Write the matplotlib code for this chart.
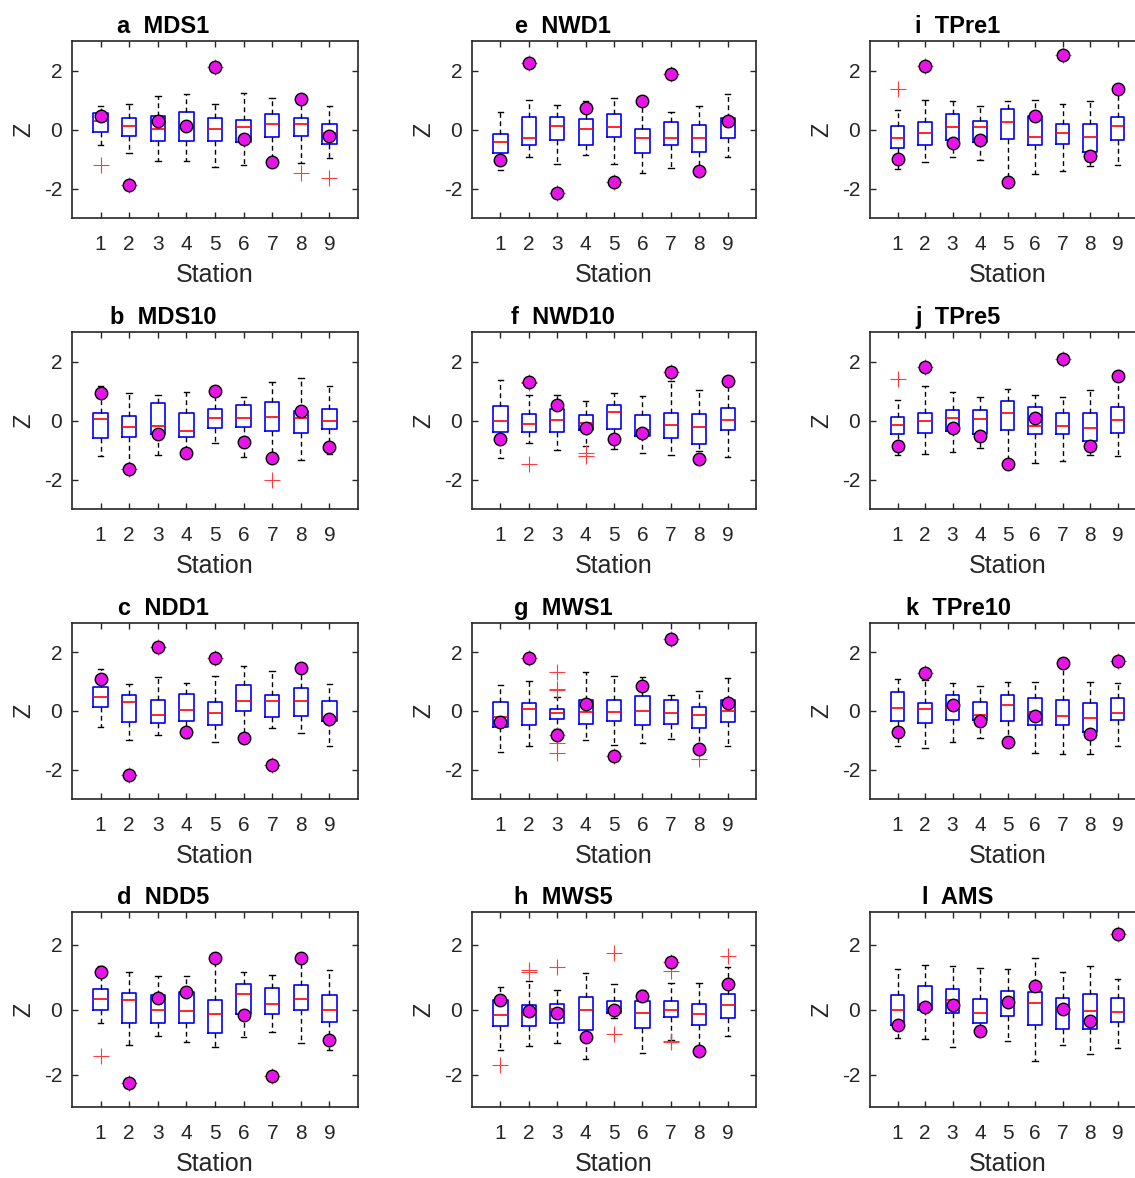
import matplotlib
matplotlib.use("Agg")
import matplotlib.pyplot as plt
import numpy as np

plt.rcParams['font.family'] = ['Liberation Sans', 'DejaVu Sans']
plt.rcParams['axes.unicode_minus'] = False

# panel titles, column-major (a-d col 1, e-h col 2, i-l col 3)
letters = ['a', 'b', 'c', 'd', 'e', 'f', 'g', 'h', 'i', 'j', 'k', 'l']
names = ['MDS1', 'MDS10', 'NDD1', 'NDD5', 'NWD1', 'NWD10', 'MWS1', 'MWS5',
         'TPre1', 'TPre5', 'TPre10', 'AMS']
stations = [1, 2, 3, 4, 5, 6, 7, 8, 9]

# box statistics per panel (9 stations each)
whisker_hi = [
    [0.79, 0.88, 1.13, 1.19, 0.85, 1.24, 1.06, 1.03, 0.81],
    [1.16, 0.92, 0.85, 0.96, 1.00, 0.79, 1.29, 1.43, 1.16],
    [1.43, 0.93, 1.17, 0.94, 1.18, 1.54, 1.38, 1.46, 0.92],
    [1.34, 1.15, 1.04, 1.04, 1.59, 1.14, 1.06, 1.59, 1.21],
    [0.61, 1.01, 0.84, 0.96, 1.06, 0.97, 0.60, 0.79, 1.22],
    [1.38, 0.88, 0.85, 0.66, 0.93, 0.82, 1.34, 1.03, 1.17],
    [0.90, 1.02, 0.49, 1.33, 1.19, 1.15, 0.53, 0.67, 1.11],
    [0.68, 0.87, 0.61, 1.13, 0.77, 0.59, 0.81, 0.82, 1.32],
    [0.66, 1.00, 0.98, 0.81, 0.97, 1.00, 0.88, 0.96, 1.38],
    [0.70, 1.18, 0.98, 0.81, 1.06, 0.85, 0.78, 1.04, 1.51],
    [1.09, 1.05, 0.94, 0.85, 1.00, 1.00, 1.63, 1.00, 0.97],
    [1.25, 1.37, 1.33, 1.27, 1.24, 1.59, 1.14, 1.33, 0.93],
]
box_q3 = [
    [0.56, 0.40, 0.45, 0.60, 0.38, 0.33, 0.53, 0.40, 0.17],
    [0.27, 0.16, 0.60, 0.25, 0.40, 0.54, 0.62, 0.33, 0.40],
    [0.82, 0.56, 0.38, 0.57, 0.30, 0.87, 0.53, 0.80, 0.35],
    [0.63, 0.50, 0.46, 0.53, 0.29, 0.80, 0.65, 0.76, 0.46],
    [-0.15, 0.42, 0.43, 0.37, 0.52, 0.02, 0.27, 0.16, 0.38],
    [0.49, 0.21, 0.40, 0.18, 0.51, 0.18, 0.26, 0.21, 0.44],
    [0.30, 0.27, 0.06, 0.38, 0.36, 0.52, 0.36, 0.13, 0.39],
    [0.28, 0.14, 0.17, 0.38, 0.27, 0.27, 0.25, 0.16, 0.48],
    [0.13, 0.25, 0.52, 0.30, 0.71, 0.47, 0.20, 0.17, 0.43],
    [0.13, 0.24, 0.37, 0.35, 0.65, 0.45, 0.24, 0.25, 0.45],
    [0.65, 0.26, 0.53, 0.29, 0.54, 0.45, 0.37, 0.28, 0.46],
    [0.45, 0.73, 0.64, 0.33, 0.57, 0.54, 0.34, 0.49, 0.36],
]
medians = [
    [0.29, 0.12, 0.02, 0.11, 0.02, 0.10, 0.19, 0.19, -0.12],
    [0.04, -0.22, -0.17, -0.37, 0.08, 0.10, 0.13, 0.08, 0.00],
    [0.47, 0.31, -0.12, 0.02, -0.07, 0.34, 0.34, 0.34, -0.22],
    [0.31, 0.28, -0.03, -0.04, -0.14, 0.48, 0.16, 0.33, 0.00],
    [-0.44, -0.29, 0.13, 0.03, 0.10, -0.29, -0.28, -0.30, 0.28],
    [-0.01, -0.11, 0.01, -0.10, 0.28, -0.31, -0.16, -0.22, 0.02],
    [-0.20, 0.07, -0.07, -0.04, -0.04, 0.01, -0.07, -0.13, 0.00],
    [-0.16, -0.16, 0.01, 0.00, 0.05, -0.12, -0.03, -0.14, 0.14],
    [-0.29, -0.11, 0.10, 0.08, 0.27, -0.24, -0.13, -0.26, 0.12],
    [-0.15, 0.00, 0.09, 0.06, 0.27, -0.17, -0.20, -0.27, 0.03],
    [0.09, 0.07, 0.10, -0.12, 0.21, -0.03, -0.18, -0.24, -0.07],
    [-0.02, 0.16, 0.28, -0.12, 0.16, 0.19, 0.02, -0.04, -0.07],
]
box_q1 = [
    [-0.07, -0.21, -0.39, -0.39, -0.39, -0.42, -0.27, -0.22, -0.48],
    [-0.61, -0.56, -0.45, -0.57, -0.26, -0.21, -0.37, -0.43, -0.28],
    [0.15, -0.39, -0.42, -0.35, -0.49, 0.00, -0.22, -0.16, -0.33],
    [-0.03, -0.43, -0.40, -0.43, -0.72, -0.15, -0.13, 0.00, -0.37],
    [-0.80, -0.52, -0.35, -0.54, -0.27, -0.81, -0.52, -0.76, -0.30],
    [-0.38, -0.38, -0.39, -0.31, -0.30, -0.51, -0.60, -0.78, -0.33],
    [-0.56, -0.48, -0.26, -0.44, -0.35, -0.48, -0.46, -0.57, -0.38],
    [-0.52, -0.50, -0.41, -0.64, -0.12, -0.56, -0.24, -0.47, -0.27],
    [-0.62, -0.52, -0.36, -0.43, -0.31, -0.52, -0.49, -0.76, -0.36],
    [-0.46, -0.44, -0.35, -0.46, -0.33, -0.45, -0.45, -0.71, -0.42],
    [-0.35, -0.40, -0.29, -0.31, -0.33, -0.47, -0.47, -0.73, -0.32],
    [-0.49, 0.00, -0.11, -0.40, -0.21, -0.48, -0.61, -0.59, -0.37],
]
whisker_lo = [
    [-0.53, -0.79, -1.07, -1.07, -1.27, -1.21, -1.21, -1.12, -0.97],
    [-1.20, -1.50, -1.16, -1.05, -0.76, -1.24, -1.26, -1.33, -1.12],
    [-0.55, -1.00, -0.83, -0.91, -1.04, -0.92, -0.58, -0.76, -1.20],
    [-0.40, -1.10, -0.83, -1.00, -1.14, -0.85, -0.70, -1.04, -1.25],
    [-1.38, -0.92, -1.17, -0.88, -1.17, -1.47, -1.29, -1.42, -0.93],
    [-1.26, -0.76, -1.00, -0.85, -0.96, -1.09, -1.17, -1.05, -1.24],
    [-1.40, -1.20, -0.63, -1.00, -1.17, -1.09, -0.97, -1.22, -1.19],
    [-1.24, -1.12, -1.02, -1.51, -0.26, -1.33, -0.94, -1.25, -0.81],
    [-1.35, -1.10, -0.94, -1.03, -1.78, -1.51, -1.40, -1.25, -1.19],
    [-1.17, -1.15, -1.07, -0.92, -1.48, -1.43, -1.37, -1.16, -1.20],
    [-1.19, -1.26, -1.06, -0.93, -1.07, -1.43, -1.46, -1.48, -1.19],
    [-0.88, -0.91, -1.14, -0.81, -0.96, -1.57, -1.08, -1.38, -1.17],
]
outliers = [
    [[-1.21], [-1.89], [], [], [2.11], [], [], [-1.46], [-1.63]],
    [[], [-1.65], [], [], [], [], [-2.03], [], []],
    [[], [-2.19], [2.18], [], [1.81], [], [-1.85], [], []],
    [[-1.43], [-2.25], [], [], [], [], [-2.05], [], []],
    [[], [2.24], [-2.15], [], [-1.79], [], [1.89], [], []],
    [[], [1.31, 1.28, -1.46], [], [-1.09, -1.19], [], [], [1.65], [], []],
    [[], [1.79], [1.33, 0.74, 0.72, -0.81, -1.10, -1.44], [], [-1.54], [],
     [2.46], [-1.64], []],
    [[-1.72], [1.23, 1.14], [1.31], [], [1.73, -0.75], [],
     [1.47, 1.18, -0.97, -1.00], [], [1.66]],
    [[1.37], [2.15], [], [], [], [], [2.53], [], []],
    [[1.39], [1.82], [], [], [], [], [2.08], [], []],
    [[], [1.30], [], [], [], [], [], [], [1.71]],
    [[], [], [], [], [], [], [], [], [2.31]],
]
# magenta points (one per station)
points = [
    [0.47, -1.89, 0.28, 0.11, 2.11, -0.31, -1.11, 1.03, -0.22],
    [0.92, -1.65, -0.45, -1.10, 1.00, -0.72, -1.26, 0.33, -0.89],
    [1.08, -2.19, 2.18, -0.72, 1.81, -0.92, -1.85, 1.46, -0.26],
    [1.16, -2.25, 0.36, 0.54, 1.59, -0.18, -2.05, 1.59, -0.95],
    [-1.03, 2.24, -2.15, 0.72, -1.79, 0.97, 1.89, -1.42, 0.28],
    [-0.62, 1.31, 0.53, -0.26, -0.62, -0.43, 1.65, -1.31, 1.34],
    [-0.39, 1.79, -0.81, 0.24, -1.54, 0.85, 2.46, -1.28, 0.26],
    [0.30, -0.05, -0.11, -0.85, 0.00, 0.43, 1.47, -1.28, 0.77],
    [-0.99, 2.15, -0.45, -0.35, -1.78, 0.47, 2.53, -0.91, 1.38],
    [-0.85, 1.82, -0.24, -0.51, -1.48, 0.07, 2.08, -0.85, 1.51],
    [-0.70, 1.30, 0.20, -0.33, -1.07, -0.18, 1.63, -0.79, 1.71],
    [-0.47, 0.07, 0.15, -0.65, 0.22, 0.71, 0.02, -0.34, 2.31],
]

W, H = 1135, 1178
fig = plt.figure(figsize=(W / 100, H / 100), dpi=100)

# layout in pixels
col_left = [72, 472, 870]
col_width = [286, 284, 275]
row_top = [41, 332, 623, 912]
row_height = [177, 177, 176, 195]
dark = '#262626'

for p in range(12):
    col, row = p // 4, p % 4
    l = col_left[col] / W
    b = 1 - (row_top[row] + row_height[row]) / H
    ax = fig.add_axes([l, b, col_width[col] / W, row_height[row] / H])

    stats = []
    for s in range(9):
        stats.append(dict(med=medians[p][s], q1=box_q1[p][s], q3=box_q3[p][s],
                          whislo=whisker_lo[p][s], whishi=whisker_hi[p][s],
                          fliers=outliers[p][s]))
    ax.bxp(stats, positions=stations, widths=0.5, capwidths=0.2,
           boxprops=dict(color='#0000ff', lw=1.2),
           medianprops=dict(color='#ff0000', lw=1.2),
           whiskerprops=dict(color='black', lw=1.0, linestyle=(0, (3.5, 2.5))),
           capprops=dict(color='black', lw=1.0),
           flierprops=dict(marker='+', markeredgecolor='#ff3c3c', markersize=11,
                           markeredgewidth=0.8, linestyle='none'))
    ax.plot(stations, points[p], 'o', mfc='#e614e6', mec='black', mew=1.0,
            ms=9, zorder=5, clip_on=False)

    ax.set_xlim(0, 10)
    ax.set_ylim(-3, 3)
    ax.set_xticks(stations)
    ax.set_xticklabels([str(s) for s in stations])
    ax.set_yticks([-2, 0, 2])
    ax.set_yticklabels(['-2', '0', '2'])
    ax.tick_params(direction='in', length=4, width=1.0, colors=dark,
                   top=True, right=True, labelsize=15, pad=7)
    ax.tick_params(axis='x', pad=12)
    for sp in ax.spines.values():
        sp.set_color(dark)
        sp.set_linewidth(1.2)
    ax.set_xlabel('Station', fontsize=18, color=dark, labelpad=7)
    ax.set_ylabel('Z', fontsize=17, color=dark, labelpad=6)
    ax.text(0.32, 1.015, letters[p] + '  ' + names[p], transform=ax.transAxes,
            ha='center', va='bottom', fontsize=17, fontweight='bold')

fig.savefig('out.png', dpi=100)
